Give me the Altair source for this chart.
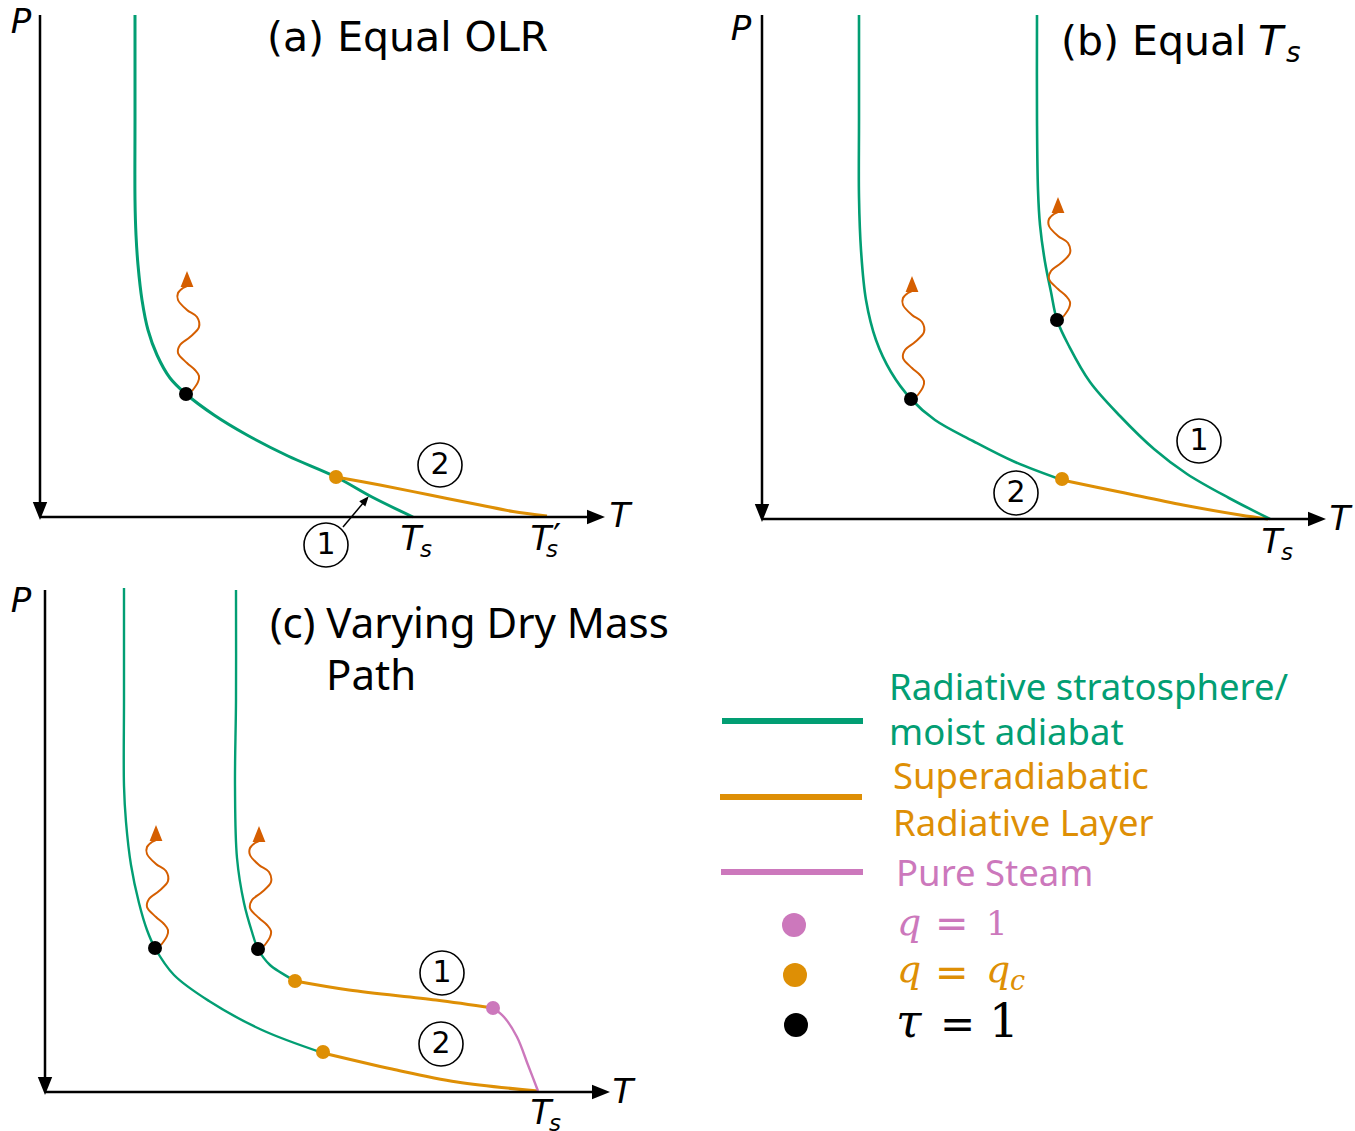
import altair as alt
import pandas as pd

W, H = 1355, 1131
GREEN, ORANGE, PINK, VERM, BLACK = "#029E73", "#DE8F05", "#CC78BC", "#D55E00", "#000000"

# ---------------- profile curves (T position, P position) ----------------
A_GREEN_X = [135, 135, 135, 136, 138, 142, 148, 157, 170, 186, 214, 247, 288, 336, 372, 413]
A_GREEN_Y = [15, 120, 200, 235, 265, 300, 330, 355, 378, 394, 415, 435, 456, 477, 497, 517]
A_ORANGE_X = [336, 380, 430, 480, 513, 547]
A_ORANGE_Y = [477, 485, 495, 505, 511.5, 516]

B2_GREEN_X = [859, 859, 859, 861, 866, 876, 891, 911, 935, 973, 1015, 1062]
B2_GREEN_Y = [15, 120, 197, 250, 300, 340, 372, 399, 420, 441, 462, 480]
B2_ORANGE_X = [1062, 1120, 1183, 1240, 1268]
B2_ORANGE_Y = [480, 492, 505, 515, 519]
B1_GREEN_X = [1037, 1037, 1038, 1040, 1045, 1051, 1057, 1069, 1090, 1120, 1154, 1187, 1229, 1270]
B1_GREEN_Y = [15, 120, 190, 225, 262, 292, 320, 346, 382, 416, 449, 474, 498, 519]

C2_GREEN_X = [124, 124, 124, 126, 131, 139, 147, 155, 174, 209, 262, 323]
C2_GREEN_Y = [588, 700, 786, 822, 865, 903, 930, 948, 975, 1001, 1030, 1053]
C2_ORANGE_X = [323, 392, 457, 538]
C2_ORANGE_Y = [1053, 1069, 1082, 1091]
C1_GREEN_X = [236, 236, 235, 237, 244, 252, 258, 270, 295]
C1_GREEN_Y = [590, 700, 786, 858, 903, 932, 949, 965, 981]
C1_ORANGE_X = [295, 349, 436, 493]
C1_ORANGE_Y = [981, 990, 1000, 1008]
C1_PINK_X = [493, 504, 517, 528, 538]
C1_PINK_Y = [1008, 1017, 1037, 1065, 1091]

# axes (start, end of shaft)
AXES = [  # x1, y1, x2, y2
    (40, 15, 40, 508), (40, 517, 592, 517),
    (762, 15, 762, 510), (762, 519, 1313, 519),
    (45, 590, 45, 1083), (45, 1092, 597, 1092),
]
AXIS_HEAD_X = [40, 596, 762, 1317, 45, 601]
AXIS_HEAD_Y = [511, 517, 513, 519, 1086, 1092]
AXIS_HEAD_ANGLE = [90, 0, 90, 0, 90, 0]

# legend lines
LEG_LINE_Y = [721, 797, 872]
LEG_LINE_X = [(722, 863), (720, 862), (721, 863)]
LEG_LINE_C = [GREEN, ORANGE, PINK]

# emission (wavy) arrows: shape relative to tau=1 point
WAVE_DX = [6, 12, 13, 9, 1, -8, -6, 4, 13, 11, 1, -8, -8, -3, 1]
WAVE_DY = [-3, -12, -18, -24, -31, -41, -49, -57, -67, -77, -84, -94, -101, -106, -108]
TAU_X = [186, 911, 1057, 155, 258]
TAU_Y = [394, 399, 320, 948, 949]

# q = q_c points and q = 1 points
QC_X = [336, 1062, 295, 323]
QC_Y = [477, 479, 981, 1052]
Q1_X = [493]
Q1_Y = [1008]

# legend dots
LEG_DOT_X = [794, 795, 796]
LEG_DOT_Y = [925, 975, 1025]
LEG_DOT_C = [PINK, ORANGE, BLACK]

# circled labels
CIRC_LABEL = ["2", "1", "1", "2", "1", "2"]
CIRC_X = [440, 326, 1199, 1016, 442, 441]
CIRC_Y = [465, 545, 441, 493, 973, 1044]

# ---------------- build tables ----------------
X = alt.X("x:Q", scale=alt.Scale(domain=[0, W], nice=False, zero=False), axis=None)
Y = alt.Y("y:Q", scale=alt.Scale(domain=[H, 0], nice=False, zero=False), axis=None)

rows = []
def add_line(cid, xs, ys, color, w):
    for i, (x, y) in enumerate(zip(xs, ys)):
        rows.append(dict(id=cid, i=i, x=x, y=y, c=color, w=w))

add_line("a_g", A_GREEN_X, A_GREEN_Y, GREEN, 3)
add_line("a_o", A_ORANGE_X, A_ORANGE_Y, ORANGE, 3)
add_line("b2_g", B2_GREEN_X, B2_GREEN_Y, GREEN, 2.6)
add_line("b2_o", B2_ORANGE_X, B2_ORANGE_Y, ORANGE, 3)
add_line("b1_g", B1_GREEN_X, B1_GREEN_Y, GREEN, 2.6)
add_line("c2_g", C2_GREEN_X, C2_GREEN_Y, GREEN, 2.4)
add_line("c2_o", C2_ORANGE_X, C2_ORANGE_Y, ORANGE, 3)
add_line("c1_g", C1_GREEN_X, C1_GREEN_Y, GREEN, 2.4)
add_line("c1_o", C1_ORANGE_X, C1_ORANGE_Y, ORANGE, 3)
add_line("c1_p", C1_PINK_X, C1_PINK_Y, PINK, 2.4)
for k, (x1, y1, x2, y2) in enumerate(AXES):
    add_line(f"ax{k}", [x1, x2], [y1, y2], BLACK, 2.5)
for k, (yy, (x1, x2), c) in enumerate(zip(LEG_LINE_Y, LEG_LINE_X, LEG_LINE_C)):
    add_line(f"leg{k}", [x1, x2], [yy, yy], c, 6)
for k, (ax, ay) in enumerate(zip(TAU_X, TAU_Y)):
    add_line(f"wave{k}", [ax + d for d in WAVE_DX], [ay + d for d in WAVE_DY], VERM, 2)
add_line("small_arrow", [343, 364], [527, 502], BLACK, 1.5)

lines_df = pd.DataFrame(rows)
lines = alt.Chart(lines_df).mark_line(interpolate="catmull-rom", strokeCap="butt").encode(
    x=X, y=Y, detail="id:N", order="i:Q",
    color=alt.Color("c:N", scale=None), strokeWidth=alt.StrokeWidth("w:Q", scale=None),
)

# arrowheads
HEAD = "M-1,-0.8L1,0L-1,0.8Z"
heads = []
for x, y, a in zip(AXIS_HEAD_X, AXIS_HEAD_Y, AXIS_HEAD_ANGLE):
    heads.append(dict(x=x, y=y, a=a, s=324, c=BLACK))
for ax, ay in zip(TAU_X, TAU_Y):
    heads.append(dict(x=ax + 1, y=ay - 115, a=270, s=256, c=VERM))
heads.append(dict(x=365.5, y=500, a=310, s=100, c=BLACK))
heads_df = pd.DataFrame(heads)
head_layer = alt.Chart(heads_df).mark_point(shape=HEAD, filled=True, opacity=1, strokeWidth=0).encode(
    x=X, y=Y, angle=alt.Angle("a:Q", scale=None), size=alt.Size("s:Q", scale=None),
    color=alt.Color("c:N", scale=None),
)

# dots
dots = []
for x, y in zip(TAU_X, TAU_Y):
    dots.append(dict(x=x, y=y, c=BLACK, s=196))
for x, y in zip(QC_X, QC_Y):
    dots.append(dict(x=x, y=y, c=ORANGE, s=196))
for x, y in zip(Q1_X, Q1_Y):
    dots.append(dict(x=x, y=y, c=PINK, s=196))
for x, y, c in zip(LEG_DOT_X, LEG_DOT_Y, LEG_DOT_C):
    dots.append(dict(x=x, y=y, c=c, s=576))
dots_df = pd.DataFrame(dots)
dot_layer = alt.Chart(dots_df).mark_circle(opacity=1).encode(
    x=X, y=Y, size=alt.Size("s:Q", scale=None), color=alt.Color("c:N", scale=None)
)

circ_df = pd.DataFrame(dict(x=CIRC_X, y=CIRC_Y, t=CIRC_LABEL))
rings = alt.Chart(circ_df).mark_point(shape="circle", filled=False, size=1936, stroke=BLACK,
                                      strokeWidth=1.6, opacity=1).encode(x=X, y=Y)
ring_text = alt.Chart(circ_df).mark_text(font="DejaVu Sans", fontSize=30, align="center",
                                         baseline="middle", color=BLACK).encode(x=X, y=Y, text="t:N")

# ---------------- texts ----------------
def text_layer(items, font, style="normal", align="left"):
    df = pd.DataFrame(items, columns=["t", "x", "y", "s", "c"])
    return alt.Chart(df).mark_text(font=font, fontStyle=style, align=align, baseline="alphabetic").encode(
        x=X, y=Y, text="t:N", size=alt.Size("s:Q", scale=None), color=alt.Color("c:N", scale=None)
    )

TITLES_DEJAVU = [
    ("(a) Equal OLR", 267, 51, 41, BLACK),
    ("(b) Equal", 1061, 55, 41, BLACK),
]
ITALIC_LEFT = [
    ("T", 1258, 55, 41, BLACK),
    ("s", 1286, 62, 28, BLACK),
]
ITALIC_CENTER = [
    ("P", 21, 33, 34, BLACK), ("T", 620, 527, 34, BLACK),
    ("T", 411, 550, 34, BLACK), ("s", 426, 557, 23, BLACK),
    ("T", 541, 550, 34, BLACK), ("s", 552, 557, 23, BLACK),
    ("P", 741, 40, 34, BLACK), ("T", 1340, 530, 34, BLACK),
    ("T", 1272, 553, 34, BLACK), ("s", 1287, 560, 23, BLACK),
    ("P", 21, 612, 34, BLACK), ("T", 623, 1103, 34, BLACK),
    ("T", 541, 1124, 34, BLACK), ("s", 555, 1131, 23, BLACK),
]
PRIME = [("′", 557, 549, 36, BLACK)]
NOTO = [
    ("(c) Varying Dry Mass", 270, 638, 42, BLACK),
    ("Path", 326, 690, 42, BLACK),
    ("Radiative stratosphere/", 889, 700, 36.5, GREEN),
    ("moist adiabat", 889, 745, 36.5, GREEN),
    ("Superadiabatic", 893, 789, 36.5, ORANGE),
    ("Radiative Layer", 893, 836, 36.5, ORANGE),
    ("Pure Steam", 896, 886, 36.5, PINK),
]
MATH_ITALIC = [
    ("q", 897, 935, 38, PINK),
    ("q", 897, 982, 38, ORANGE), ("q", 986, 982, 38, ORANGE), ("c", 1010, 990, 27, ORANGE),
    ("τ", 896, 1037, 46, BLACK),
]
MATH_EQ = [
    ("=", 935, 937, 40, PINK), ("=", 935, 986, 40, ORANGE), ("=", 940, 1038, 42, BLACK),
]
MATH_NUM = [
    ("1", 986, 935, 34, PINK), ("1", 989, 1037, 47, BLACK),
]

chart = alt.layer(
    lines, head_layer, dot_layer, rings, ring_text,
    text_layer(TITLES_DEJAVU, "DejaVu Sans"),
    text_layer(ITALIC_LEFT, "DejaVu Sans", "italic"),
    text_layer(ITALIC_CENTER, "DejaVu Sans", "italic", "center"),
    text_layer(PRIME, "DejaVu Sans", "normal", "center"),
    text_layer(NOTO, "Noto Sans"),
    text_layer(MATH_ITALIC, "DejaVu Serif", "italic"),
    text_layer(MATH_EQ, "DejaVu Sans"),
    text_layer(MATH_NUM, "DejaVu Serif"),
).properties(
    width=W, height=H, padding=0, autosize=alt.AutoSizeParams(type="none"), background="white"
).configure_view(strokeWidth=0)

chart.save("out.html", embed_options={"renderer": "svg", "actions": False})
